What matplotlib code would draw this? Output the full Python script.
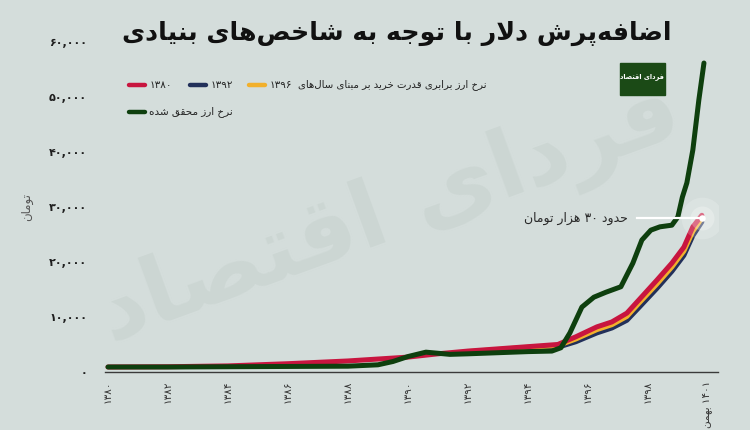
import numpy as np
import matplotlib
matplotlib.use("Agg")
import matplotlib.pyplot as plt
from matplotlib.lines import Line2D
from matplotlib.patches import Rectangle

# --- data ---
green_x = [1380, 1382, 1384, 1386, 1388, 1389, 1389.5, 1390, 1390.6, 1391.4, 1392, 1393, 1394,
           1394.8, 1395.1, 1395.4, 1395.8, 1396.2, 1396.6, 1397.1, 1397.5, 1397.8, 1398.1,
           1398.4, 1398.8, 1399.0, 1399.15, 1399.3, 1399.5, 1399.7, 1399.87]
green_y = [900, 900, 950, 1000, 1050, 1300, 1900, 2800, 3600, 3200, 3300, 3500, 3700,
           3800, 4400, 7100, 11800, 13600, 14500, 15500, 19800, 24000, 25800,
           26400, 26700, 28200, 31800, 34400, 40400, 49500, 56200]

red_x = [1380, 1382, 1384, 1386, 1388, 1390, 1391, 1392, 1393, 1394, 1395, 1395.6, 1396.3,
         1396.8, 1397.3, 1397.7, 1398.3, 1398.8, 1399.2, 1399.5, 1399.8]
red_y = [900, 950, 1100, 1500, 2000, 2700, 3300, 3800, 4200, 4600, 5000, 6400, 8200,
         9100, 10700, 13100, 16700, 19800, 22700, 26400, 28500]

orange_x = [1392, 1393, 1394, 1395, 1395.6, 1396.3, 1396.8, 1397.3, 1397.7, 1398.3, 1398.8,
            1399.2, 1399.5, 1399.8]
orange_y = [3700, 4100, 4500, 4800, 6000, 7700, 8600, 10100, 12500, 16000, 19100,
            22000, 25600, 28000]

navy_x = [1392, 1393, 1394, 1395, 1395.6, 1396.3, 1396.8, 1397.3, 1397.7, 1398.3, 1398.8,
          1399.2, 1399.5, 1399.8]
navy_y = [3500, 3900, 4300, 4500, 5500, 7100, 8000, 9400, 11700, 15200, 18300,
          21200, 24800, 27300]

x_ticks = [1380, 1382, 1384, 1386, 1388, 1390, 1392, 1394, 1396, 1398, 1400]
x_labels = ["1380", "1382", "1384", "1386", "1388", "1390", "1392", "1394", "1396", "1398",
            "1401 بهمن"]
y_ticks = [0, 10000, 20000, 30000, 40000, 50000, 60000]

title = "اضافه\u200cپرش دلار با توجه به شاخص\u200cهای بنیادی"
legend_ppp = "نرخ ارز برابری قدرت خرید بر مبنای سال\u200cهای"
legend_real = "نرخ ارز محقق شده"
legend_years = ["1380", "1392", "1396"]
note = "حدود 30 هزار تومان"
unit = "تومان"
brand = "فردای اقتصاد"

# --- minimal persian shaping (matplotlib has no bidi / joining) ---
FORMS = {
    'ا': ('\uFE8D', '\uFE8E', None, None), 'آ': ('\uFE81', '\uFE82', None, None),
    'ب': ('\uFE8F', '\uFE90', '\uFE91', '\uFE92'), 'پ': ('\uFB56', '\uFB57', '\uFB58', '\uFB59'),
    'ت': ('\uFE95', '\uFE96', '\uFE97', '\uFE98'), 'ث': ('\uFE99', '\uFE9A', '\uFE9B', '\uFE9C'),
    'ج': ('\uFE9D', '\uFE9E', '\uFE9F', '\uFEA0'), 'چ': ('\uFB7A', '\uFB7B', '\uFB7C', '\uFB7D'),
    'ح': ('\uFEA1', '\uFEA2', '\uFEA3', '\uFEA4'), 'خ': ('\uFEA5', '\uFEA6', '\uFEA7', '\uFEA8'),
    'د': ('\uFEA9', '\uFEAA', None, None), 'ذ': ('\uFEAB', '\uFEAC', None, None),
    'ر': ('\uFEAD', '\uFEAE', None, None), 'ز': ('\uFEAF', '\uFEB0', None, None),
    'ژ': ('\uFB8A', '\uFB8B', None, None),
    'س': ('\uFEB1', '\uFEB2', '\uFEB3', '\uFEB4'), 'ش': ('\uFEB5', '\uFEB6', '\uFEB7', '\uFEB8'),
    'ص': ('\uFEB9', '\uFEBA', '\uFEBB', '\uFEBC'), 'ض': ('\uFEBD', '\uFEBE', '\uFEBF', '\uFEC0'),
    'ط': ('\uFEC1', '\uFEC2', '\uFEC3', '\uFEC4'), 'ظ': ('\uFEC5', '\uFEC6', '\uFEC7', '\uFEC8'),
    'ع': ('\uFEC9', '\uFECA', '\uFECB', '\uFECC'), 'غ': ('\uFECD', '\uFECE', '\uFECF', '\uFED0'),
    'ف': ('\uFED1', '\uFED2', '\uFED3', '\uFED4'), 'ق': ('\uFED5', '\uFED6', '\uFED7', '\uFED8'),
    'ک': ('\uFB8E', '\uFB8F', '\uFB90', '\uFB91'), 'گ': ('\uFB92', '\uFB93', '\uFB94', '\uFB95'),
    'ل': ('\uFEDD', '\uFEDE', '\uFEDF', '\uFEE0'), 'م': ('\uFEE1', '\uFEE2', '\uFEE3', '\uFEE4'),
    'ن': ('\uFEE5', '\uFEE6', '\uFEE7', '\uFEE8'), 'و': ('\uFEED', '\uFEEE', None, None),
    'ه': ('\uFEE9', '\uFEEA', '\uFEEB', '\uFEEC'), 'ی': ('\uFBFC', '\uFBFD', '\uFBFE', '\uFBFF'),
}
FA_DIGITS = str.maketrans("0123456789", "۰۱۲۳۴۵۶۷۸۹")


def dual(ch):
    return ch in FORMS and FORMS[ch][2] is not None


def shape(word):
    out = []
    i = 0
    n = len(word)
    while i < n:
        ch = word[i]
        prev = word[i - 1] if i > 0 else None
        jp = prev is not None and dual(prev)
        if ch == 'ل' and i + 1 < n and word[i + 1] == 'ا':
            out.append('\uFEFC' if jp else '\uFEFB')
            i += 2
            continue
        if ch not in FORMS:
            if ch != '\u200c':
                out.append(ch)
            i += 1
            continue
        nxt = word[i + 1] if i + 1 < n else None
        jn = dual(ch) and nxt is not None and nxt in FORMS
        iso, fin, ini, med = FORMS[ch]
        if jp and jn:
            out.append(med)
        elif jp:
            out.append(fin)
        elif jn:
            out.append(ini)
        else:
            out.append(iso)
        i += 1
    return ''.join(out)


def fa(text):
    text = text.translate(FA_DIGITS)
    vis = []
    for tok in text.split(' '):
        if all(c in '۰۱۲۳۴۵۶۷۸۹,.' for c in tok):
            vis.append(tok)
        else:
            vis.append(shape(tok)[::-1])
    return ' '.join(reversed(vis))


plt.rcParams['font.family'] = ['DejaVu Sans']

bg = '#d4dddb'
c_green = '#0e3f0e'
c_red = '#c8153f'
c_orange = '#f2b02c'
c_navy = '#22305a'

fig = plt.figure(figsize=(7.5, 4.3), dpi=100, facecolor=bg)
ax = fig.add_axes([0.14, 0.135, 0.817, 0.767])
ax.set_facecolor('none')

# watermark
fig.text(0.52, 0.5, fa(brand), fontsize=66, fontweight='bold', color='#ccd6d3',
         rotation=20, ha='center', va='center', zorder=-5)

lw = 3.6
ax.plot(navy_x, navy_y, color=c_navy, lw=lw, solid_capstyle='round', solid_joinstyle='round')
ax.plot(orange_x, orange_y, color=c_orange, lw=lw, solid_capstyle='round', solid_joinstyle='round')
ax.plot(red_x, red_y, color=c_red, lw=lw, solid_capstyle='round', solid_joinstyle='round')
ax.plot(green_x, green_y, color=c_green, lw=lw, solid_capstyle='round', solid_joinstyle='round')

# annotation at the end of the PPP lines
ann_x, ann_y = orange_x[-1], orange_y[-1]
ax.scatter([ann_x], [ann_y], s=900, color='white', alpha=0.18, zorder=5, lw=0)
ax.scatter([ann_x], [ann_y], s=300, color='white', alpha=0.25, zorder=5, lw=0)
ax.scatter([ann_x], [ann_y], s=22, color='white', zorder=6, lw=0)
ax.plot([ann_x - 2.17, ann_x], [ann_y, ann_y], color='white', lw=1.6, zorder=6)
ax.text(ann_x - 2.47, ann_y, fa(note), ha='right', va='center', fontsize=9, color='#2a2a2a')

ax.set_xlim(1379.9, 1400.33)
ax.set_ylim(0, 60000)
for s in ['top', 'right', 'left']:
    ax.spines[s].set_visible(False)
ax.spines['bottom'].set_color('#3a3a3a')
ax.spines['bottom'].set_linewidth(1.0)

ax.set_xticks(x_ticks)
ax.set_xticklabels([fa(l) for l in x_labels], rotation=90, fontsize=7.5, color='#333333')
ax.set_yticks(y_ticks)
ax.set_yticklabels([fa(f"{v:,}") for v in y_ticks], fontsize=8, fontweight='bold',
                   color='#1e1e1e')
ax.tick_params(axis='both', length=0)
ax.tick_params(axis='y', pad=13)
ax.tick_params(axis='x', pad=6)
ax.set_ylabel(fa(unit), fontsize=8.5, color='#555555', labelpad=11)

# title
fig.text(0.529, 0.922, fa(title), ha='center', va='center', fontsize=18.2,
         fontweight='bold', color='#111111')

# legend (drawn by hand in figure coords, right-to-left like the original)
def fx(px):
    return px / 750


def fy(py):
    return 1 - py / 430


leg_cols = [c_red, c_navy, c_orange]
leg_x = [127, 188, 247]
row1, row2 = 85, 112
for col, x0, yr in zip(leg_cols, leg_x, legend_years):
    fig.add_artist(Line2D([fx(x0 + 2), fx(x0 + 18)], [fy(row1), fy(row1)], color=col, lw=3.2,
                          solid_capstyle='round', transform=fig.transFigure))
    fig.text(fx(x0 + 23), fy(row1), fa(yr), ha='left', va='center', fontsize=7.5,
             color='#222222')
fig.text(fx(487), fy(row1), fa(legend_ppp), ha='right', va='center', fontsize=7.3,
         color='#222222')
fig.add_artist(Line2D([fx(129), fx(145)], [fy(row2), fy(row2)], color=c_green, lw=3.2,
                      solid_capstyle='round', transform=fig.transFigure))
fig.text(fx(233), fy(row2), fa(legend_real), ha='right', va='center', fontsize=7.5,
         color='#222222')

# logo box
fig.add_artist(Rectangle((fx(620), fy(95)), fx(45), 32 / 430, color='#1b4a16',
                         transform=fig.transFigure))
fig.text(fx(642.5), fy(77), fa(brand), ha='center', va='center', fontsize=4.8,
         fontweight='bold', color='white')

fig.savefig('out.png', dpi=100, facecolor=bg)
